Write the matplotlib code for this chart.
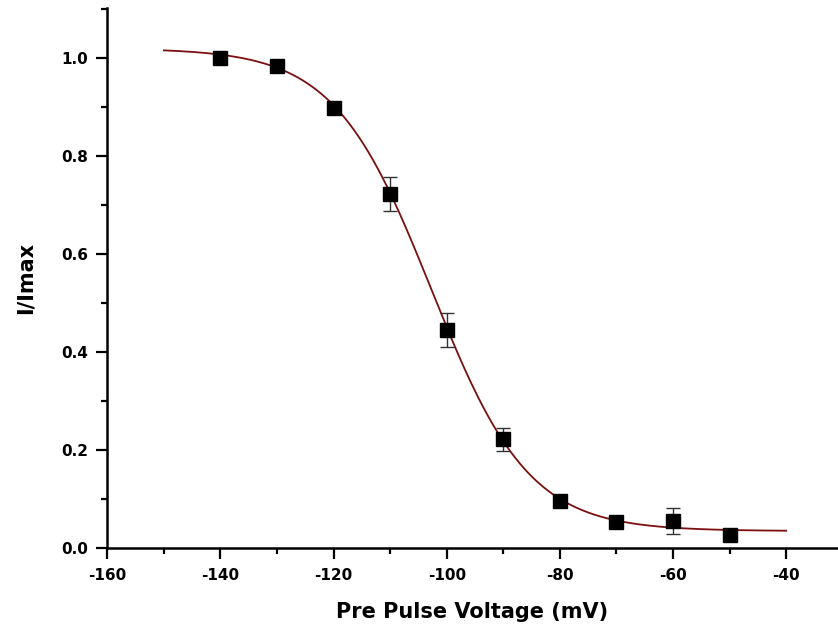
import numpy as np
import matplotlib.pyplot as plt
from matplotlib.ticker import MultipleLocator

plt.rcParams['font.family'] = ['DejaVu Sans']
plt.rcParams['font.weight'] = 'bold'
plt.rcParams['axes.unicode_minus'] = False

# measured points (mean +/- error)
voltage = [-140, -130, -120, -110, -100, -90, -80, -70, -60, -50]
i_norm = [1.000, 0.985, 0.898, 0.723, 0.446, 0.222, 0.097, 0.053, 0.055, 0.027]
i_err = [0.004, 0.004, 0.006, 0.034, 0.035, 0.023, 0.006, 0.004, 0.026, 0.004]

# Boltzmann fit parameters
A1 = 1.02
A2 = 0.035
V_half = -102.7
k_slope = 8.6
fit_start, fit_end = -150, -40

fig = plt.figure(figsize=(8.38, 6.33), dpi=100)
ax = fig.add_axes([0.128, 0.134, 0.871, 0.853])

v_fit = np.linspace(fit_start, fit_end, 400)
i_fit = A2 + (A1 - A2) / (1 + np.exp((v_fit - V_half) / k_slope))
ax.plot(v_fit, i_fit, color='#7a1010', lw=1.3, zorder=2)

ax.errorbar(voltage, i_norm, yerr=i_err, fmt='s', color='black', ms=10,
            ecolor='#333333', elinewidth=1.0, capsize=5, capthick=1.0, zorder=3)

ax.set_xlim(-160, -31)
ax.set_ylim(0, 1.102)
ax.xaxis.set_major_locator(MultipleLocator(20))
ax.xaxis.set_minor_locator(MultipleLocator(10))
ax.yaxis.set_major_locator(MultipleLocator(0.2))
ax.yaxis.set_minor_locator(MultipleLocator(0.1))
ax.yaxis.set_major_formatter(plt.FuncFormatter(lambda v, p: f'{v:.1f}'))

for side in ['top', 'right']:
    ax.spines[side].set_visible(False)
for side in ['left', 'bottom']:
    ax.spines[side].set_linewidth(1.8)

ax.tick_params(which='major', direction='out', length=8, width=1.6, labelsize=11, pad=6)
ax.tick_params(which='minor', direction='out', length=4, width=1.6)

ax.set_xlabel('Pre Pulse Voltage (mV)', fontsize=15, fontweight='bold', labelpad=14)
ax.set_ylabel('I/Imax', fontsize=15, fontweight='bold', labelpad=18)

fig.savefig('out.png', dpi=100)
